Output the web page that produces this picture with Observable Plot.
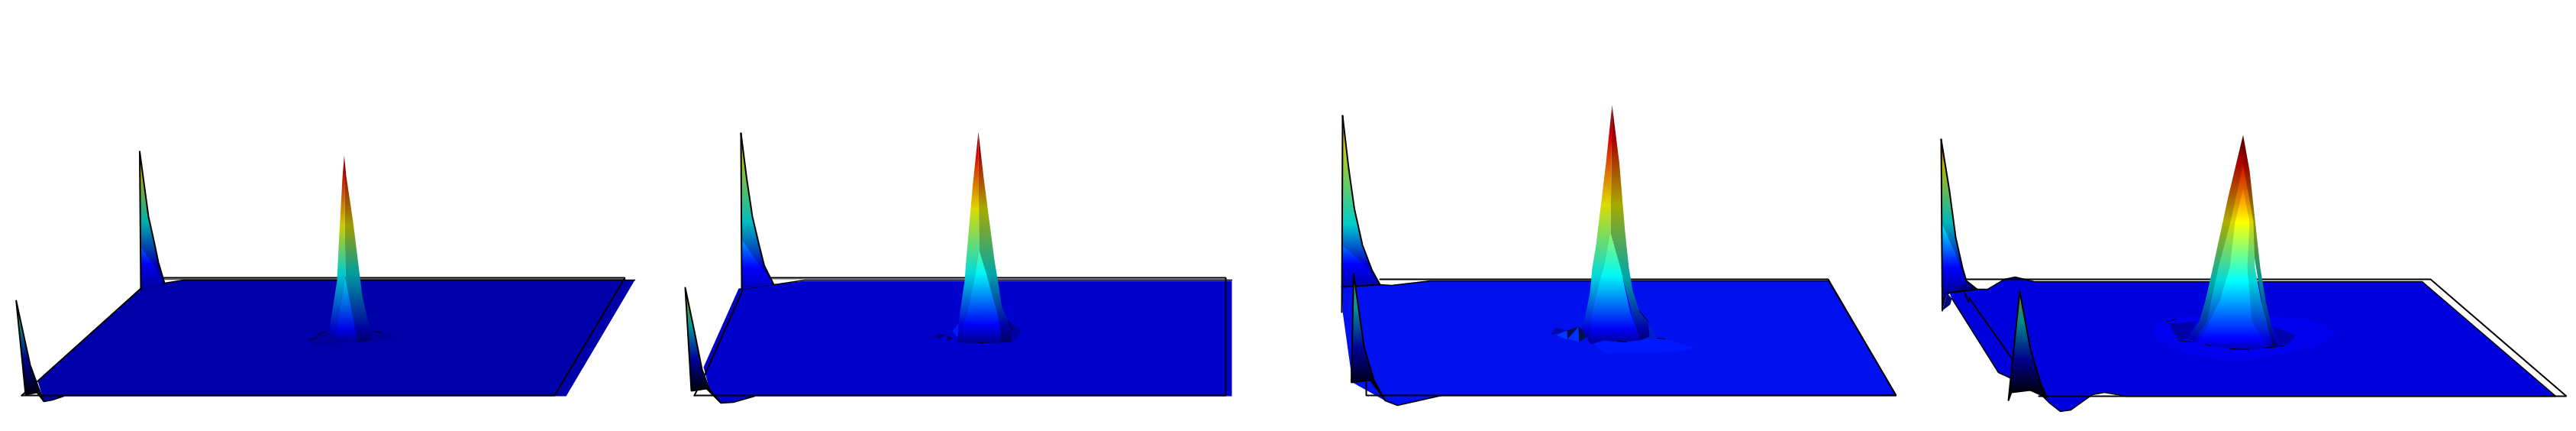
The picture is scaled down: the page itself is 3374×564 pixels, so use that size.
<!DOCTYPE html>
<html><head><meta charset="utf-8">
<script src="https://cdn.jsdelivr.net/npm/d3@7"></script>
<script src="https://cdn.jsdelivr.net/npm/@observablehq/plot@0.6"></script>
<style>html,body{margin:0;padding:0;background:#fff}svg{display:block}</style>
</head><body><div id="chart"></div>
<script>
// jet colour ramp: the colour of each named height band
const jetNames = ["darkred","red","yellow","cyan","blue","navy"];
const jetColors = ["#800000","#ff0000","#ffff00","#00ffff","#0000ff","#000028"];

// ---- Panel 1
const p1Plate = [[184,377],[215,370],[240,366],[831,366],[741,518],[83,518],[68,523],[57,525],[49,498]];
const p1PlateEdges = [[[184,377],[215,370],[240,366],[831,366]],[[57,525],[68,523],[83,518]]];
const p1Frame = [[28,517],[726,517],[818,363],[214,363]];
const p1FrameLeft = [[28,517],[184,377]];
const p1Gap = [[214,365],[818,365]];
const p1Color = "#0000aa";
const p1ALevels = [150,165,225,290,345,420];
const p1A = [[182.5,198],[194,283],[201.6,317],[207,343],[215,370],[184,379]];
const p1AIn = [[184,323],[184,379],[215,370],[200,345]];
const p1BLevels = [340,360,395,425,470,512];
const p1B = [[20.7,393],[39,477],[50,507],[57,525],[48,513],[33,516]];
const p1MLevels = [203,225,295,357,430,470];
const p1MLeft = [[450.3,203],[448,233],[443,323],[441,367],[433,417],[430,445],[450,448],[452,363]];
const p1MRight = [[450.3,203],[453,230],[462,290],[467,330],[474,387],[481,417],[486,435],[485,445],[468,448],[452,363]];
const p1MMid = [];
const p1MIn = [[452,363],[444,410],[439,447],[468,447],[460,405]];
const p1Details = [
  [[[400,447],[428,431],[430,445],[450,450],[415,450]], "#000098"],
  [[[486,430],[518,440],[486,448]], "#000098"]
];
const p1Dashes = [[[415,438],[425,433]],[[405,444],[414,441]],[[490,433],[500,435]]];

// ---- Panel 2
const p2Plate = [[967,377],[1013,372],[1054,367],[1613,367],[1613,518],[988,518],[960,526],[944,527],[929,510],[921,480]];
const p2PlateEdges = [[[971,378],[1013,372],[1054,366],[1613,366]],[[929,510],[944,527],[960,526],[988,518]]];
const p2Frame = [[909,517],[1605,517],[1605,363],[1008,363]];
const p2FrameLeft = [[909,517],[924,487],[972,380]];
const p2Gap = [[1008,365],[1605,365]];
const p2Color = "#0000cc";
const p2ALevels = [120,140,197,290,350,440];
const p2A = [[970,174],[977.5,233],[985,283],[993,317],[1000.5,347],[1013,372],[971,378]];
const p2AIn = [[971,313],[971,378],[1013,372],[990,340]];
const p2BLevels = [320,345,385,425,470,505];
const p2B = [[897,376],[909,433],[919,483],[929,510],[944,527],[925,508],[905,511]];
const p2MLevels = [172,200,273,357,425,470];
const p2MLeft = [[1281,172],[1273.5,243],[1265,340],[1263,367],[1257,407],[1253,447],[1283,449],[1282,327]];
const p2MRight = [[1281,172],[1288,233],[1299,317],[1302,340],[1307,370],[1312,403],[1325,430],[1325,447],[1283,449],[1282,327]];
const p2MMid = [];
const p2MIn = [[1282,327],[1277,360],[1267,407],[1255,448],[1310,448],[1310,430],[1305,407],[1292,360]];
const p2Details = [
  [[[1215,437],[1227,437],[1228,443],[1218,441]], "#0000b0"],
  [[[1227,437],[1240,437],[1228,443]], "#000070"],
  [[[1240,438],[1248,442],[1240,446]], "#000070"],
  [[[1247,433],[1255,422],[1255,443]], "#0018ff"],
  [[[1318,418],[1338,432],[1328,446]], "#0000a0"]
];
const p2Dashes = [[[1320,420],[1325,430]],[[1283,448],[1287,448]]];

// ---- Panel 3
const p3Plate = [[1757,373],[1807,372],[1822,373],[1873,367],[2394.5,367],[2483,517],[1888,517],[1830,530],[1814,524],[1771,500],[1758,407]];
const p3PlateEdges = [[[1807,372],[1822,373],[1873,367],[2394.5,367],[2483,517],[1888,517],[1830,530],[1814,524]]];
const p3Frame = [[1789,500],[1789,517],[2483,517],[2394,365],[1807,365]];
const p3FrameLeft = [];
const p3Gap = [];
const p3Color = "#0010ee";
const p3ALevels = [90,115,187,293,345,420];
const p3A = [[1758,151],[1766,220],[1773.5,273],[1784,320],[1796.5,353],[1807,372],[1757,375],[1757,408]];
const p3AIn = [[1757,320],[1757,375],[1807,372],[1785,345]];
const p3BLevels = [250,280,330,400,455,500];
const p3B = [[1772.5,358],[1786,453],[1799,497],[1814,524],[1795,497],[1769.5,500]];
const p3MLevels = [137,180,267,360,430,470];
const p3MLeft = [[2111,137],[2103,213],[2090,320],[2085,350],[2082,383],[2075,417],[2070,428],[2083,450],[2109,305]];
const p3MRight = [[2111,137],[2120.5,213],[2128,303],[2133,350],[2138,380],[2147,407],[2158,420],[2160,440],[2147,445],[2109,305]];
const p3MMid = [];
const p3MIn = [[2109,305],[2100,350],[2095,367],[2083,417],[2083,450],[2100,445],[2123,447],[2147,445],[2135,410],[2122,350]];
const p3Details = [
  [[[2085,448],[2100,445],[2123,447],[2147,442],[2177,442],[2220,455],[2190,460],[2100,462]], "#0018ff"],
  [[[2037,428],[2052,432],[2067,427],[2070,428],[2030,438]], "#0008a8"],
  [[[2038,438],[2052,432],[2052,444]], "#0038ff"],
  [[[2052,432],[2067,427],[2053,443]], "#001048"],
  [[[2053,443],[2067,427],[2068,447]], "#0030ff"],
  [[[2067,427],[2082,437],[2068,447]], "#001048"],
  [[[2082,437],[2095,443],[2083,449]], "#0030a0"],
  [[[2147,420],[2160,425],[2170,440],[2160,443]], "#0020d0"]
];
const p3Dashes = [[[2147,407],[2158,420]],[[2118,446],[2130,447]],[[2170,442],[2180,443]]];

// ---- Panel 4
const p4Plate = [[2553,383],[2589,378],[2603,378],[2625,365],[2639,362],[2664,368],[3172,368],[3347,518],[2784,518],[2756,513],[2740,516],[2712,536],[2698,538],[2684,527],[2667,510],[2617,487],[2556,390]];
const p4PlateEdges = [[[2589,378],[2603,378],[2625,365],[2639,362],[2664,368],[3172,368],[3347,518],[2784,518],[2756,513],[2740,516],[2712,536],[2698,538],[2684,527],[2667,510],[2617,487],[2556,390]]];
const p4Frame = [[2670,518],[3361,518],[3183,365],[2575,365]];
const p4FrameLeft = [[2570,377],[2578,394]];
const p4FrameLeft2 = [[2579,390],[2637,472]];
const p4Gap = [];
const p4Color = "#0000dd";
const p4ALevels = [150,175,215,290,350,420];
const p4A = [[2542,182],[2553,250],[2561,310],[2570,350],[2575,367],[2589,378],[2550,383],[2543.5,406]];
const p4AIn = [[2542,290],[2543,390],[2575,370],[2560,330]];
const p4BLevels = [300,330,370,420,470,510];
const p4B = [[2645,381],[2659,457],[2673,503],[2681,520],[2659,510],[2634,513],[2630,524]];
const p4MLevels = [176,213,290,367,443,480];
const p4MLeft = [[2937.5,176],[2918,257],[2898.5,347],[2888,393],[2880,420],[2865,443],[2878,448],[2933,457],[2937.5,247]];
const p4MRight = [[2937.5,176],[2946,223],[2960,350],[2967,393],[2975,427],[2983,453],[2972,455],[2937.5,247]];
const p4MMid = [[2937.5,215],[2921,290],[2905,350],[2890,420],[2872,447],[2933,457],[2977,455],[2961,393],[2953,350],[2951,290]];
const p4MIn = [[2937.5,247],[2927,290],[2920,350],[2907,393],[2887,433],[2878,448],[2933,457],[2972,455],[2949,420],[2943,350],[2946,290]];
const p4Details = [
  [[[2820,422],[2840,415],[2877,413],[2977,413],[3027,418],[3060,433],[3033,453],[2987,463],[2930,473],[2863,463],[2820,443]], "#0000ee"],
  [[[2840,423],[2876,420],[2865,443],[2853,445]], "#0000a8"],
  [[[2977,427],[3007,438],[2997,450],[2983,452]], "#0000b0"],
  [[[2543.5,406],[2550,383],[2556,390],[2554,398]], "#000a70"]
];
const p4Dashes = [[[2853,445],[2870,447]],[[2888,450],[2895,452]],[[2920,456],[2945,457]],[[2965,455],[2990,452]],[[2838,420],[2850,417]]];

const panels = [
  {plate:p1Plate,edges:p1PlateEdges,color:p1Color,frame:p1Frame,frameLeft:[p1FrameLeft],gap:p1Gap,gapColor:"#555",details:p1Details,dashes:p1Dashes,
   A:p1A,AIn:p1AIn,ALv:p1ALevels,B:p1B,BLv:p1BLevels,ML:p1MLeft,MR:p1MRight,MM:p1MMid,MI:p1MIn,MLv:p1MLevels,sh:[.8,.62,.9,.9],shA:[.68,.95],shB:.55},
  {plate:p2Plate,edges:p2PlateEdges,color:p2Color,frame:p2Frame,frameLeft:[p2FrameLeft],gap:p2Gap,gapColor:"#bbb",details:p2Details,dashes:p2Dashes,
   A:p2A,AIn:p2AIn,ALv:p2ALevels,B:p2B,BLv:p2BLevels,ML:p2MLeft,MR:p2MRight,MM:p2MMid,MI:p2MIn,MLv:p2MLevels,sh:[.86,.66,.9,.97],shA:[.74,1],shB:.6},
  {plate:p3Plate,edges:p3PlateEdges,color:p3Color,frame:p3Frame,frameLeft:[p3FrameLeft],gap:p3Gap,gapColor:"#bbb",details:p3Details,dashes:p3Dashes,
   A:p3A,AIn:p3AIn,ALv:p3ALevels,B:p3B,BLv:p3BLevels,ML:p3MLeft,MR:p3MRight,MM:p3MMid,MI:p3MIn,MLv:p3MLevels,sh:[.86,.66,.9,.97],shA:[.8,1],shB:.6},
  {plate:p4Plate,edges:p4PlateEdges,color:p4Color,frame:p4Frame,frameLeft:[p4FrameLeft,p4FrameLeft2],gap:p4Gap,gapColor:"#bbb",details:p4Details,dashes:p4Dashes,
   A:p4A,AIn:p4AIn,ALv:p4ALevels,B:p4B,BLv:p4BLevels,ML:p4MLeft,MR:p4MRight,MM:p4MMid,MI:p4MIn,MLv:p4MLevels,sh:[.68,.58,.85,1],shA:[.72,1],shB:.55}
];

const gradients = [];
const shaded = (hex, s) => { const c = d3.rgb(hex); return d3.rgb(c.r*s, c.g*s, c.b*s).formatHex(); };
const gradient = (levels, s) => { const id = "g" + gradients.length; gradients.push({id, levels, s}); return `url(#${id})`; };

// defs mark: colour stops placed through the plot's y scale
const gradientDefs = (index, scales) => {
  const ns = "http://www.w3.org/2000/svg";
  const defs = document.createElementNS(ns, "defs");
  for (const g of gradients) {
    const lg = document.createElementNS(ns, "linearGradient");
    lg.setAttribute("id", g.id);
    lg.setAttribute("gradientUnits", "userSpaceOnUse");
    lg.setAttribute("x1", 0); lg.setAttribute("x2", 0);
    const y0 = scales.y(g.levels[0]), y1 = scales.y(g.levels[g.levels.length-1]);
    lg.setAttribute("y1", y0); lg.setAttribute("y2", y1);
    g.levels.forEach((lv, i) => {
      const st = document.createElementNS(ns, "stop");
      st.setAttribute("offset", (scales.y(lv)-y0)/(y1-y0));
      st.setAttribute("stop-color", shaded(jetColors[i], g.s));
      lg.appendChild(st);
    });
    defs.appendChild(lg);
  }
  return defs;
};

const closed = pts => [...pts, pts[0]];
const px = d => d[0], py = d => d[1];
const poly = (pts, fill) => Plot.line(closed(pts), {x:px, y:py, fill, stroke:"none", curve:"linear"});
const edge = (pts, strokeWidth=2, stroke="#000") => Plot.line(pts, {x:px, y:py, stroke, strokeWidth, strokeLinejoin:"miter", curve:"linear"});

const marks = [];
for (const p of panels) {
  marks.push(poly(p.plate, p.color));
  if (p.gap.length) marks.push(edge(p.gap, 1.5, p.gapColor));
  for (const e of p.edges) marks.push(edge(e, 1.5));
  marks.push(edge(p.frame, 2));
  for (const f of p.frameLeft) if (f.length) marks.push(edge(f, 2));
  for (const [pts, c] of p.details) marks.push(poly(pts, c));
  marks.push(poly(p.A, gradient(p.ALv, p.shA[0])));
  marks.push(poly(p.AIn, gradient(p.ALv, p.shA[1])));
  marks.push(edge(p.A.slice(0,-1), 2));
  marks.push(edge([p.A[0], p.A[p.A.length-1]], 2));
  marks.push(poly(p.ML, gradient(p.MLv, p.sh[0])));
  marks.push(poly(p.MR, gradient(p.MLv, p.sh[1])));
  if (p.MM.length) marks.push(poly(p.MM, gradient(p.MLv, p.sh[2])));
  marks.push(poly(p.MI, gradient(p.MLv, p.sh[3])));
  for (const d of p.dashes) marks.push(edge(d, 1));
  marks.push(poly(p.B, gradient(p.BLv, p.shB)));
  marks.push(edge(closed(p.B), 2));
}

const chart = Plot.plot({
  width: 3374, height: 564, margin: 0,
  x: {domain:[0,3374], range:[0,3374], axis:null},
  y: {domain:[0,564], range:[0,564], axis:null},
  marks: [gradientDefs, ...marks]
});
document.getElementById("chart").appendChild(chart);
</script></body></html>
